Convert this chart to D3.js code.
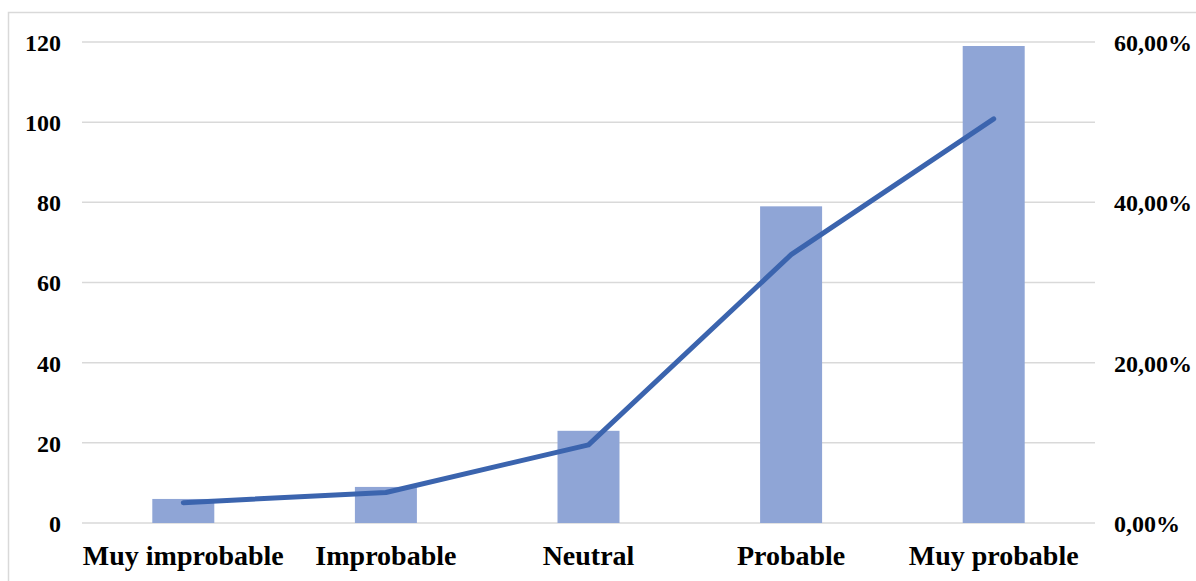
<!DOCTYPE html>
<html>
<head>
<meta charset="utf-8">
<script src="https://cdn.jsdelivr.net/npm/d3@7"></script>
<style>
  html, body { margin: 0; padding: 0; background: #fff; }
  svg { display: block; }
  text { font-family: "Liberation Serif", "Times New Roman", serif; font-weight: bold; fill: #000; }
</style>
</head>
<body>
<svg id="chart" width="1196" height="581"></svg>
<script>
const categories = ["Muy improbable", "Improbable", "Neutral", "Probable", "Muy probable"];
const counts = [6, 9, 23, 79, 119];
const percents = [2.54, 3.81, 9.75, 33.47, 50.42];
const leftTicks = [0, 20, 40, 60, 80, 100, 120];
const rightTicks = [0, 20, 40, 60];

const svg = d3.select("#chart");
const W = 1196, H = 581;
const plot = { left: 82, right: 1095, top: 42, bottom: 523 };

// border
svg.append("rect")
  .attr("x", 8.5).attr("y", 12.5)
  .attr("width", W + 20).attr("height", H + 20)
  .attr("fill", "none").attr("stroke", "#d9d9d9").attr("stroke-width", 1.5);

const xc = d3.scaleBand().domain(categories).range([plot.left, plot.right]);
const yL = d3.scaleLinear().domain([0, 120]).range([plot.bottom, plot.top]);
const yR = d3.scaleLinear().domain([0, 60]).range([plot.bottom, plot.top]);

// gridlines
svg.append("g").selectAll("line").data(leftTicks).join("line")
  .attr("x1", plot.left).attr("x2", plot.right)
  .attr("y1", d => yL(d)).attr("y2", d => yL(d))
  .attr("stroke", "#d9d9d9").attr("stroke-width", 1.5);

// bars
svg.append("g").selectAll("rect").data(counts).join("rect")
  .attr("x", (d, i) => xc(categories[i]) + xc.bandwidth() / 2 - 31)
  .attr("width", 62)
  .attr("y", d => yL(d))
  .attr("height", d => yL(0) - yL(d))
  .attr("fill", "#8fa5d6");

// line
const line = d3.line()
  .x((d, i) => xc(categories[i]) + xc.bandwidth() / 2)
  .y(d => yR(d));
svg.append("path").datum(percents)
  .attr("d", line)
  .attr("fill", "none")
  .attr("stroke", "#3b64ae")
  .attr("stroke-width", 5)
  .attr("stroke-linecap", "round")
  .attr("stroke-linejoin", "round");

const styleText = (sel, size) => sel.style("font-size", size)
  .style("font-family", '"Liberation Serif", serif').style("font-weight", "bold").attr("fill", "#000");

// left axis labels
const axL = d3.axisLeft(yL).tickValues(leftTicks).tickSize(0).tickPadding(0);
const gL = svg.append("g").attr("transform", "translate(61,0)").call(axL);
gL.select(".domain").remove();
styleText(gL.selectAll("text").attr("dy", "0.35em"), "24px");

// right axis labels
const fmt = d => d.toFixed(2).replace(".", ",") + "%";
const axR = d3.axisRight(yR).tickValues(rightTicks).tickSize(0).tickPadding(0).tickFormat(fmt);
const gR = svg.append("g").attr("transform", "translate(1114,0)").call(axR);
gR.select(".domain").remove();
styleText(gR.selectAll("text").attr("dy", "0.35em"), "24px");

// category labels
const axB = d3.axisBottom(xc).tickSize(0).tickPadding(0);
const gB = svg.append("g").attr("transform", "translate(0,545)").call(axB);
gB.select(".domain").remove();
styleText(gB.selectAll("text").attr("dy", "0.72em"), "28px");
</script>
</body>
</html>
